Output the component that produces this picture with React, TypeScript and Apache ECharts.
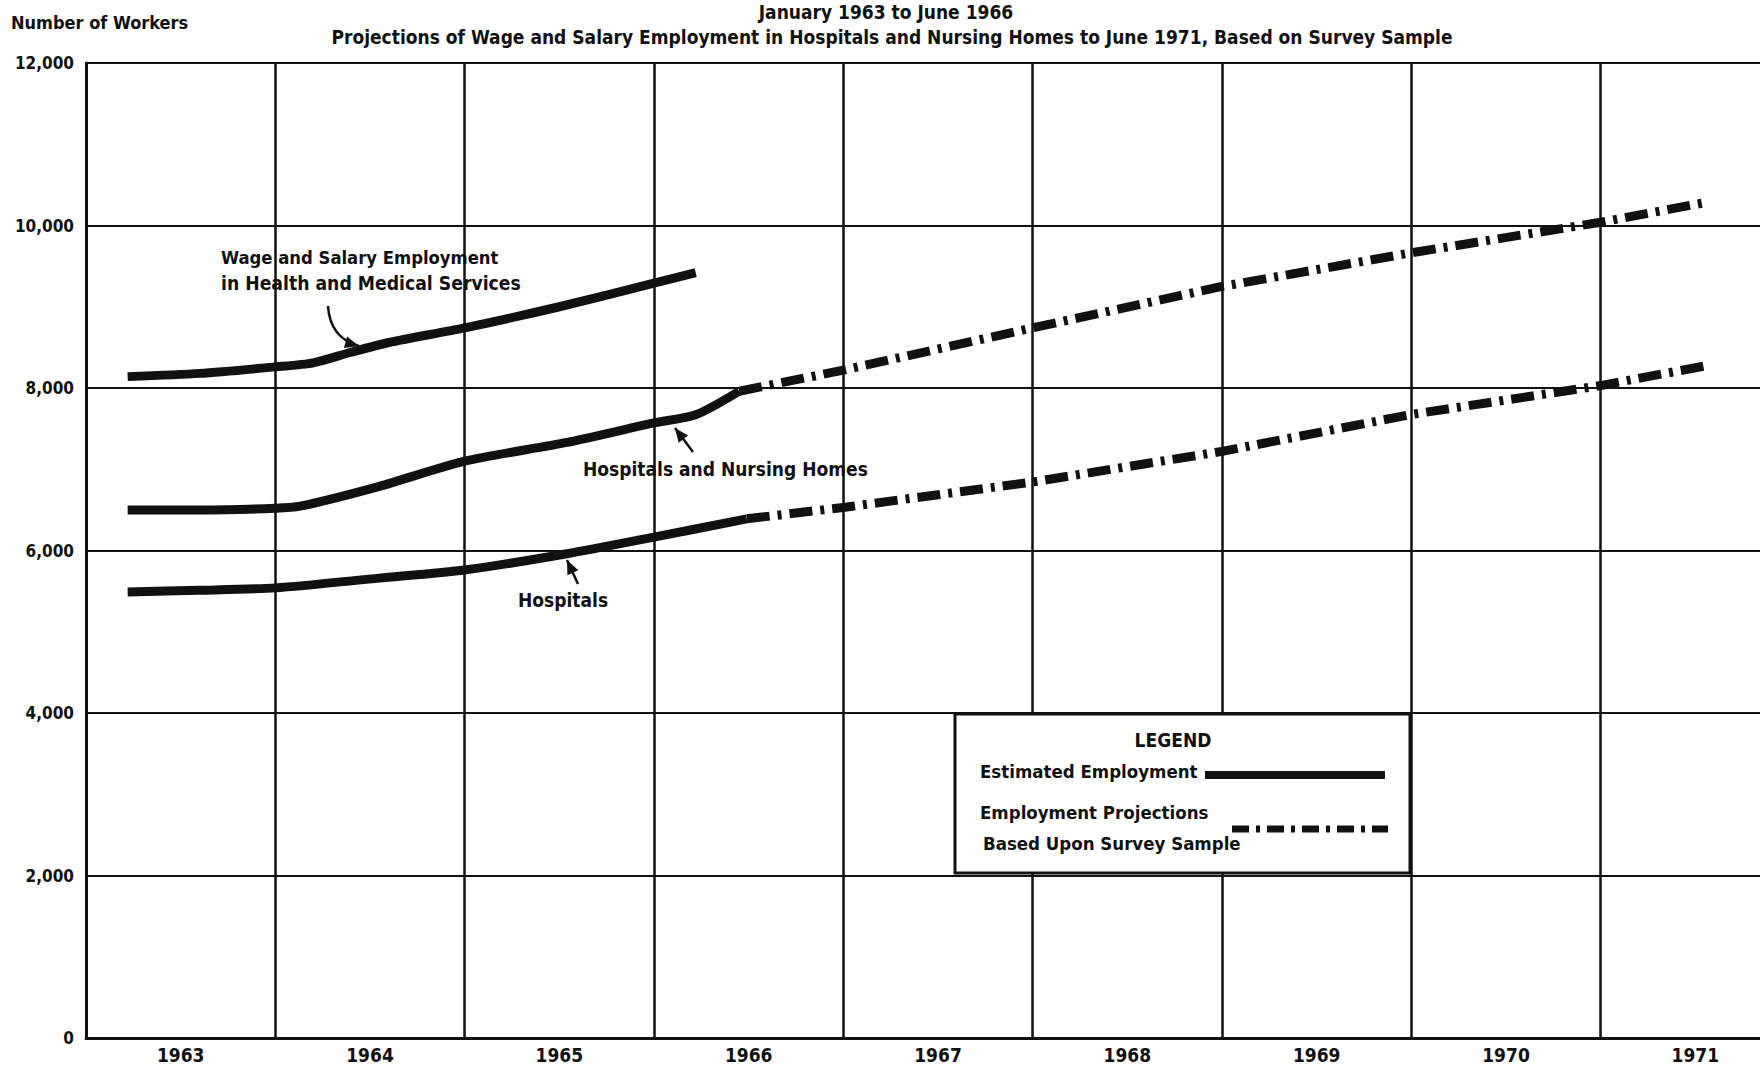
import React, { useEffect, useRef } from "react";
import * as echarts from "echarts";

// ---- data ----
const YEARS = ["1963", "1964", "1965", "1966", "1967", "1968", "1969", "1970", "1971"];
const Y_MIN = 0;
const Y_MAX = 12000;
const Y_STEP = 2000;

// x positions are in years since January 1963
const wageSalaryT = [0.22, 0.6, 1.0, 1.2, 1.4, 1.6, 2.0, 2.5, 3.0, 3.22];
const wageSalaryV = [8140, 8180, 8260, 8310, 8440, 8560, 8740, 9000, 9290, 9420];

const hospNursingT = [0.22, 0.6, 1.0, 1.13, 1.55, 2.0, 2.54, 3.0, 3.22, 3.45];
const hospNursingV = [6500, 6500, 6520, 6545, 6790, 7100, 7330, 7570, 7670, 7960];
const hospNursingProjT = [3.45, 4.0, 5.0, 6.0, 7.0, 8.0, 8.57];
const hospNursingProjV = [7960, 8220, 8740, 9250, 9664, 10040, 10290];

const hospitalsT = [0.22, 0.6, 1.0, 1.55, 2.0, 2.54, 3.0, 3.49];
const hospitalsV = [5490, 5510, 5540, 5660, 5760, 5960, 6165, 6390];
const hospitalsProjT = [3.49, 4.0, 5.0, 6.0, 7.0, 8.0, 8.57];
const hospitalsProjV = [6390, 6530, 6843, 7220, 7675, 8030, 8280];

const TITLE_1 = "January 1963 to June 1966";
const TITLE_2 =
  "Projections of Wage and Salary Employment in Hospitals and Nursing Homes to June 1971, Based on Survey Sample";

const FONT = "'DejaVu Sans Condensed', 'DejaVu Sans', sans-serif";
const INK = "#111";
const DASH = [23, 8, 4, 8];

const pairs = (t: number[], v: number[]) => t.map((x, i) => [x, v[i]]);

function arrow(x1: number, y1: number, x2: number, y2: number, cx?: number, cy?: number) {
  const els: any[] = [];
  let dx: number, dy: number;
  if (cx !== undefined && cy !== undefined) {
    els.push({
      type: "bezierCurve",
      shape: { x1, y1, x2, y2, cpx1: cx, cpy1: cy },
      style: { stroke: INK, lineWidth: 2.5, fill: null },
      z: 50,
    });
    dx = x2 - cx;
    dy = y2 - cy;
  } else {
    els.push({
      type: "line",
      shape: { x1, y1, x2, y2 },
      style: { stroke: INK, lineWidth: 2.5 },
      z: 50,
    });
    dx = x2 - x1;
    dy = y2 - y1;
  }
  const len = Math.sqrt(dx * dx + dy * dy);
  const ux = dx / len;
  const uy = dy / len;
  const hl = 14;
  const hw = 6;
  const bx = x2 - ux * hl;
  const by = y2 - uy * hl;
  els.push({
    type: "polygon",
    shape: {
      points: [
        [x2, y2],
        [bx - uy * hw, by + ux * hw],
        [bx + uy * hw, by - ux * hw],
      ],
    },
    style: { fill: INK },
    z: 50,
  });
  return els;
}

function txt(text: string, x: number, y: number, align: string = "left", size = 19) {
  return {
    type: "text",
    x,
    y,
    z: 60,
    style: {
      text,
      fill: INK,
      font: `bold ${size}px ${FONT}`,
      textAlign: align,
      textVerticalAlign: "middle",
    },
  };
}

export default function App() {
  const ref = useRef<HTMLDivElement>(null);

  useEffect(() => {
    document.body.style.margin = "0";
    if (!ref.current) return;
    const chart = echarts.init(ref.current, null, { renderer: "svg" });

    const lineSeries = (name: string, t: number[], v: number[], projected: boolean) => ({
      name,
      type: "line",
      xAxisIndex: 1,
      yAxisIndex: 0,
      data: pairs(t, v),
      showSymbol: false,
      symbol: "none",
      smooth: projected ? false : 0.25,
      z: 10,
      lineStyle: {
        color: INK,
        width: 9,
        type: projected ? DASH : "solid",
        cap: "butt",
        join: "round",
      },
    });

    const option: any = {
      animation: false,
      backgroundColor: "#fff",
      // the last year band runs past the right edge of the page, as in the original
      grid: { left: 86, top: 63, right: 10, bottom: 30, containLabel: false },
      xAxis: [
        {
          type: "category",
          data: YEARS,
          boundaryGap: true,
          position: "bottom",
          axisLine: { show: true, lineStyle: { color: INK, width: 3 } },
          axisTick: { show: false },
          axisLabel: {
            color: INK,
            fontFamily: FONT,
            fontWeight: "bold",
            fontSize: 19,
            margin: 7,
          },
          splitLine: { show: true, lineStyle: { color: INK, width: 2.5 } },
        },
        {
          type: "value",
          min: 0,
          max: YEARS.length,
          show: false,
          splitLine: { show: false },
        },
      ],
      yAxis: {
        type: "value",
        min: Y_MIN,
        max: Y_MAX,
        interval: Y_STEP,
        axisLine: { show: true, lineStyle: { color: INK, width: 3 } },
        axisTick: { show: false },
        axisLabel: {
          color: INK,
          fontFamily: FONT,
          fontWeight: "bold",
          fontSize: 17,
          margin: 12,
          formatter: (v: number) => v.toLocaleString("en-US"),
        },
        splitLine: { show: true, lineStyle: { color: INK, width: 2.2 } },
      },
      series: [
        lineSeries("Wage and Salary Employment in Health and Medical Services", wageSalaryT, wageSalaryV, false),
        lineSeries("Hospitals and Nursing Homes", hospNursingT, hospNursingV, false),
        lineSeries("Hospitals and Nursing Homes (projection)", hospNursingProjT, hospNursingProjV, true),
        lineSeries("Hospitals", hospitalsT, hospitalsV, false),
        lineSeries("Hospitals (projection)", hospitalsProjT, hospitalsProjV, true),
      ],
      graphic: [
        txt(TITLE_1, 886, 12, "center", 19),
        txt(TITLE_2, 892, 37, "center", 19),
        txt("Number of Workers", 11, 22, "left", 18),
        txt("Wage and Salary Employment", 221, 257, "left", 18.3),
        txt("in Health and Medical Services", 221, 283, "left", 19.2),
        ...arrow(328, 306, 359, 346, 330, 338),
        txt("Hospitals and Nursing Homes", 583, 469),
        ...arrow(693, 452, 675, 428),
        txt("Hospitals", 518, 600),
        ...arrow(578, 584, 567, 560),
        {
          type: "rect",
          z: 70,
          shape: { x: 955, y: 714, width: 455, height: 159 },
          style: { fill: "#fff", stroke: INK, lineWidth: 3 },
        },
        { ...txt("LEGEND", 1173, 740, "center", 19), z: 80 },
        { ...txt("Estimated Employment", 980, 771, "left", 18.5), z: 80 },
        {
          type: "line",
          z: 80,
          shape: { x1: 1205, y1: 775, x2: 1385, y2: 775 },
          style: { stroke: INK, lineWidth: 8 },
        },
        { ...txt("Employment Projections", 980, 812, "left", 18.5), z: 80 },
        { ...txt("Based Upon Survey Sample", 983, 843, "left", 18.5), z: 80 },
        {
          type: "line",
          z: 80,
          shape: { x1: 1232, y1: 829, x2: 1388, y2: 829 },
          style: { stroke: INK, lineWidth: 7, lineDash: [17, 7, 4, 7] },
        },
      ],
    };

    chart.setOption(option);
    return () => chart.dispose();
  }, []);

  return (
    <div style={{ width: 1760, height: 1068, overflow: "hidden", position: "relative" }}>
      <div ref={ref} style={{ width: 1800, height: 1068 }} />
    </div>
  );
}
